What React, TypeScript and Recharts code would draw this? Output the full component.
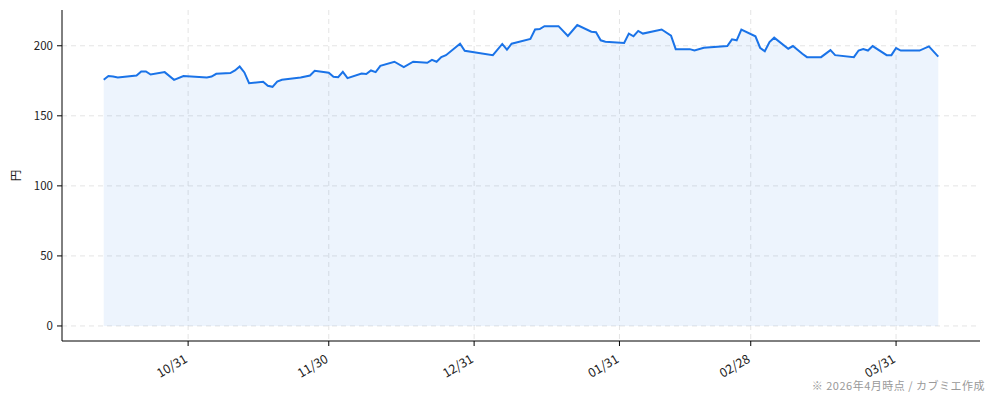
import React from 'react';
import { ComposedChart, Area, XAxis, YAxis, CartesianGrid } from 'recharts';

// trading dates (closing prices, 円)
const dates = [
  '2025-10-13', '2025-10-14', '2025-10-15', '2025-10-16', '2025-10-20', '2025-10-21', '2025-10-22',
  '2025-10-23', '2025-10-26', '2025-10-28', '2025-10-30', '2025-11-04', '2025-11-05', '2025-11-06',
  '2025-11-09', '2025-11-10', '2025-11-11', '2025-11-12', '2025-11-13', '2025-11-16', '2025-11-17',
  '2025-11-18', '2025-11-19', '2025-11-20', '2025-11-24', '2025-11-26', '2025-11-27', '2025-11-30',
  '2025-12-01', '2025-12-02', '2025-12-03', '2025-12-04', '2025-12-07', '2025-12-08', '2025-12-09',
  '2025-12-10', '2025-12-11', '2025-12-14', '2025-12-16', '2025-12-18', '2025-12-21', '2025-12-22',
  '2025-12-23', '2025-12-24', '2025-12-25', '2025-12-28', '2025-12-29', '2026-01-04', '2026-01-06',
  '2026-01-07', '2026-01-08', '2026-01-12', '2026-01-13', '2026-01-14', '2026-01-15', '2026-01-18',
  '2026-01-20', '2026-01-22', '2026-01-25', '2026-01-26', '2026-01-27', '2026-01-28', '2026-02-01',
  '2026-02-02', '2026-02-03', '2026-02-04', '2026-02-05', '2026-02-09', '2026-02-11', '2026-02-12',
  '2026-02-15', '2026-02-16', '2026-02-18', '2026-02-23', '2026-02-24', '2026-02-25', '2026-02-26',
  '2026-03-01', '2026-03-02', '2026-03-03', '2026-03-04', '2026-03-05', '2026-03-08', '2026-03-09',
  '2026-03-11', '2026-03-12', '2026-03-15', '2026-03-17', '2026-03-18', '2026-03-22', '2026-03-23',
  '2026-03-24', '2026-03-25', '2026-03-26', '2026-03-29', '2026-03-30', '2026-03-31', '2026-04-01',
  '2026-04-05', '2026-04-07', '2026-04-09',
];

const prices = [
  175.7, 178.4, 178.0, 177.4, 178.8, 181.7, 181.7,
  179.5, 181.2, 175.7, 178.4, 177.4, 178.0, 180.0,
  180.5, 182.4, 185.2, 181.0, 173.3, 174.3, 171.4,
  170.7, 174.5, 175.7, 177.4, 178.8, 182.1, 180.7,
  177.9, 177.6, 181.4, 176.9, 180.2, 179.8, 182.4,
  181.2, 185.7, 188.6, 184.8, 188.6, 187.9, 190.0,
  188.6, 191.9, 193.3, 201.4, 196.4, 193.3, 201.3,
  197.2, 201.5, 204.9, 211.6, 211.9, 214.0, 214.0,
  207.0, 214.8, 210.0, 209.7, 203.9, 202.9, 202.0,
  208.7, 206.8, 210.6, 208.7, 211.6, 207.3, 197.6,
  197.6, 196.6, 198.6, 199.8, 204.6, 203.9, 211.6,
  206.8, 198.6, 196.1, 202.7, 205.8, 197.9, 199.8,
  194.3, 191.9, 191.9, 196.9, 193.3, 191.9, 196.6,
  197.6, 196.6, 199.8, 193.3, 193.3, 198.4, 196.6,
  196.6, 199.6, 192.3,
];

const tickDates = ['2025-10-31', '2025-11-30', '2025-12-31', '2026-01-31', '2026-02-28', '2026-03-31'];
const yTicks = [0, 50, 100, 150, 200];

const toTime = (d: string) => Date.parse(d + 'T00:00:00Z');

const data = dates.map((d, i) => ({ t: toTime(d), price: prices[i] }));
const xTicks = tickDates.map(toTime);

// matplotlib-style 5% margins
const tMin = toTime(dates[0]);
const tMax = toTime(dates[dates.length - 1]);
const tPad = (tMax - tMin) * 0.05;
const xLo = tMin - tPad;
const xHi = tMax + tPad;
const yMax = Math.max(...prices);
const yPad = yMax * 0.05;
const yLo = -yPad;
const yHi = yMax + yPad;

// grid only at the tick values (no lines on the plot edges)
const hGrid = ({ offset }: any) =>
  yTicks.map((v) => offset.top + (offset.height * (yHi - v)) / (yHi - yLo));
const vGrid = ({ offset }: any) =>
  xTicks.map((v) => offset.left + (offset.width * (v - xLo)) / (xHi - xLo));

const DateTick = (props: any) => {
  const { x, y, payload } = props;
  const d = new Date(payload.value);
  const label = `${String(d.getUTCMonth() + 1).padStart(2, '0')}/${String(d.getUTCDate()).padStart(2, '0')}`;
  return (
    <g transform={`translate(${x - 4.5},${y + 5.5}) rotate(-30)`}>
      <text x={0} y={0} dy="0.75em" textAnchor="end" fill="#222" fontSize={12.5}>
        {label}
      </text>
    </g>
  );
};

export default function App() {
  return (
    <div
      style={{
        position: 'absolute',
        left: 0,
        top: 0,
        width: 994,
        height: 401,
        background: '#fff',
        fontFamily: '"Noto Sans CJK JP", "Noto Sans", sans-serif',
      }}
    >
      <ComposedChart width={994} height={401} data={data} margin={{ top: 10, right: 14, bottom: 0, left: 0 }}>
        <CartesianGrid
          stroke="#e4e4e4"
          strokeDasharray="5 4"
          horizontalCoordinatesGenerator={hGrid}
          verticalCoordinatesGenerator={vGrid}
        />
        <XAxis
          dataKey="t"
          type="number"
          domain={[xLo, xHi]}
          allowDataOverflow
          ticks={xTicks}
          tick={<DateTick />}
          tickSize={5}
          height={60}
          axisLine={{ stroke: '#000', strokeWidth: 1 }}
          tickLine={{ stroke: '#000' }}
          interval={0}
        />
        <YAxis
          type="number"
          domain={[yLo, yHi]}
          allowDataOverflow
          ticks={yTicks}
          width={62}
          tickSize={5}
          tickMargin={4}
          tick={{ fill: '#222', fontSize: 11.5 }}
          axisLine={{ stroke: '#000', strokeWidth: 1 }}
          tickLine={{ stroke: '#000' }}
          interval={0}
          label={{ value: '円', angle: -90, position: 'center', dx: -15, fill: '#222', fontSize: 11.5 }}
        />
        <Area
          type="linear"
          dataKey="price"
          baseValue={0}
          stroke="#1a73e8"
          strokeWidth={2}
          fill="#1a73e8"
          fillOpacity={0.08}
          dot={false}
          activeDot={false}
          isAnimationActive={false}
        />
      </ComposedChart>
      <div
        style={{
          position: 'absolute',
          right: 9,
          top: 380,
          fontSize: 11,
          lineHeight: '11px',
          color: '#999',
          whiteSpace: 'nowrap',
          letterSpacing: 0.5,
        }}
      >
        ※ 2026年4月時点 / カブミエ作成
      </div>
    </div>
  );
}
